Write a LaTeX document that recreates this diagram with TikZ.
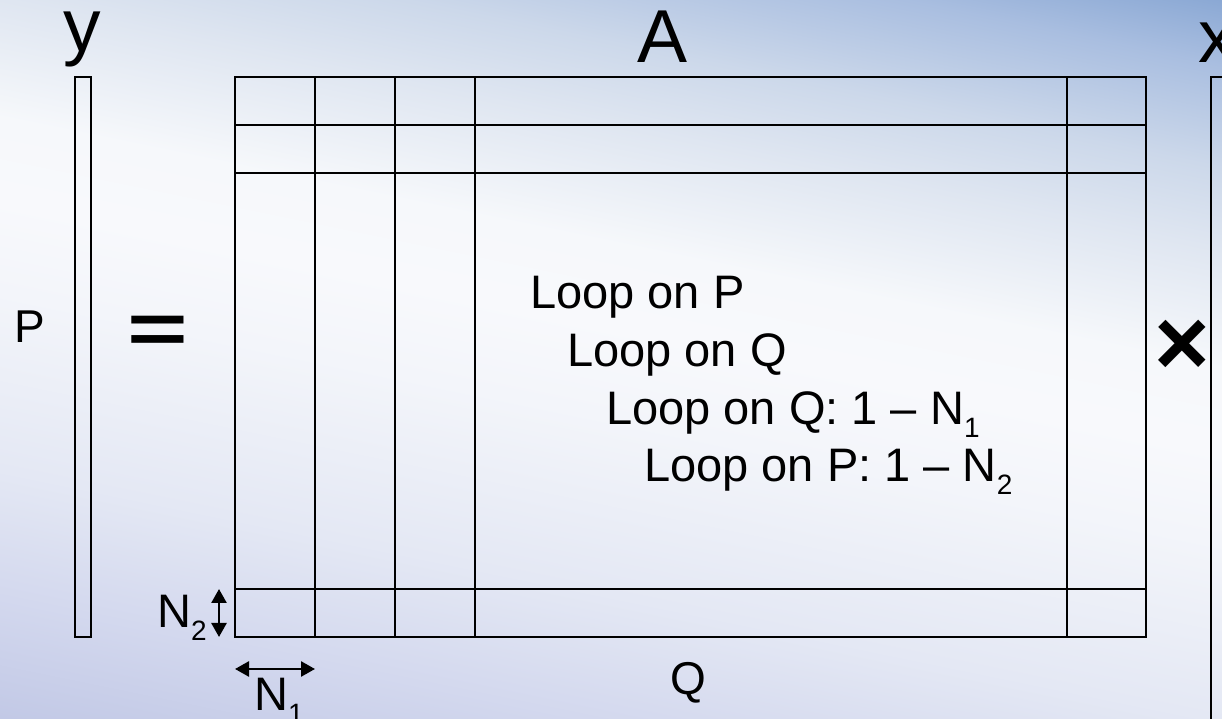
\documentclass[tikz,border=0pt]{standalone}
\usepackage{fontspec}
\setmainfont{Liberation Sans}
\usetikzlibrary{arrows.meta}
\definecolor{b0}{HTML}{C0C7E5}
\definecolor{b1}{HTML}{D3D8EE}
\definecolor{b2}{HTML}{E4E8F4}
\definecolor{b3}{HTML}{F3F5FA}
\definecolor{w0}{HTML}{F8F9FC}
\definecolor{w1}{HTML}{F6F8FB}
\definecolor{t1}{HTML}{DFE6F1}
\definecolor{t2}{HTML}{CCD8EA}
\definecolor{t3}{HTML}{A9BEE0}
\definecolor{t4}{HTML}{8AA8D4}
\definecolor{t5}{HTML}{80A0D0}
\pgfdeclareverticalshading{bgshade}{1700bp}{color(0bp)=(b0); color(40bp)=(b0); color(172bp)=(b1); color(297bp)=(b2); color(470bp)=(b3); color(560bp)=(w0); color(640bp)=(w1); color(756bp)=(t1); color(836bp)=(t2); color(936bp)=(t3); color(1001bp)=(t4); color(1120bp)=(t5)}
\newcommand{\fs}[1]{\fontsize{#1}{#1}\selectfont}
\newcommand{\subx}[1]{\raisebox{-13pt}{\fs{28}#1}}
\begin{document}
\begin{tikzpicture}[x=1pt,y=1pt,
  grid/.style={line width=2.6pt},
  lbl/.style={inner sep=0pt, anchor=base},
  big/.style={lbl, font=\fs{75}},
  txt/.style={inner sep=0pt, anchor=base west, font=\fs{47}},
  dimarrow/.style={line width=2.6pt, {Triangle[length=14pt,width=15pt]}-{Triangle[length=14pt,width=15pt]}}
]
\useasboundingbox (0,0) rectangle (1222,719);
\clip (0,0) rectangle (1222,719);
% background
\node[inner sep=0pt, rotate=-11.6] (bg) at (611,394) {\pgfuseshading{bgshade}};
% matrix A
\draw[grid] (235,82) rectangle (1146,642);
\foreach \x in {315,395,475,1067} \draw[grid] (\x,82) -- (\x,642);
\foreach \y in {594,546,130} \draw[grid] (235,\y) -- (1146,\y);
% vectors
\draw[grid] (75,82) rectangle (91,642);
\draw[grid] (1211,-20) rectangle (1260,642);
% labels
\node[big] (ylbl) at (82,667) {y};
\node[big] (Albl) at (663,656) {A};
\node[big, anchor=base west] (xlbl) at (1198,656) {x};
\node[lbl, font=\fs{46}] (Plbl) at (30,376) {P};
\node[lbl, font=\fs{46}] (Qlbl) at (688,24) {Q};
\node[lbl, font=\bfseries\fs{104}, yscale=0.69, transform shape] (eq) at (157.5,365) {=};
\node[lbl, font=\bfseries\fs{95}] (times) at (1182,343) {×};
% loop text
\node[txt] (l1) at (530,410) {Loop on P};
\node[txt] (l2) at (567,352) {Loop on Q};
\node[txt] (l3) at (606,294) {Loop on Q: 1 – N\subx{1}};
\node[txt] (l4) at (644,237) {Loop on P: 1 – N\subx{2}};
% dimension labels
\node[txt] (n2) at (157,91) {N\subx{2}};
\node[txt] (n1) at (254,8) {N\subx{1}};
\coordinate (n2a) at (219,130);
\coordinate (n2b) at (219,82);
\draw[dimarrow] (n2a) -- (n2b);
\coordinate (n1a) at (235,50);
\coordinate (n1b) at (315,50);
\draw[dimarrow] (n1a) -- (n1b);
\end{tikzpicture}
\end{document}
